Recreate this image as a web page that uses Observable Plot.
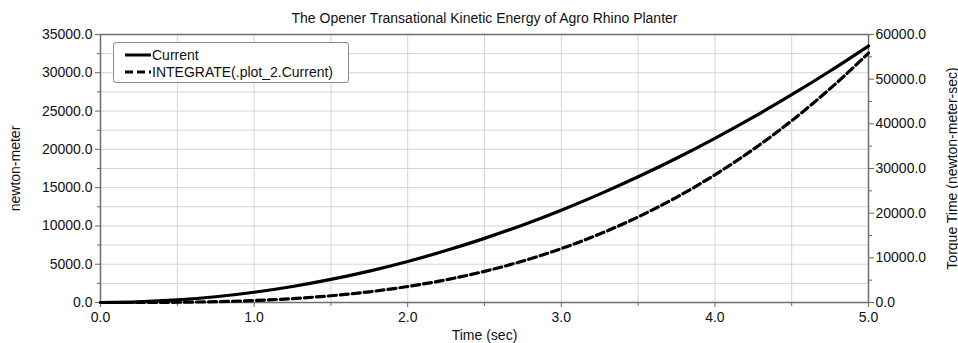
<!DOCTYPE html>
<html>
<head>
<meta charset="utf-8">
<script src="https://cdn.jsdelivr.net/npm/d3@7"></script>
<script src="https://cdn.jsdelivr.net/npm/@observablehq/plot@0.6"></script>
<style>
  html, body { margin: 0; padding: 0; background: #fff; }
  #wrap { position: relative; width: 958px; height: 343px; font-family: "Liberation Sans", Arial, sans-serif; }
  #legend { position: absolute; left: 113px; top: 42px; width: 234px; height: 39px; border: 1px solid #8a8a8a; border-radius: 3px; background: #fff; font-size: 14px; color: #111; }
  .row { position: absolute; left: 10px; height: 16px; display: flex; align-items: center; }
  .row svg { display: block; }
  .row span { margin-left: 1px; line-height: 16px; }
</style>
</head>
<body>
<div id="wrap">
  <div id="chart"></div>
  <div id="legend">
    <div class="row" style="top:4px"><svg width="27" height="8"><line x1="1" y1="4" x2="27" y2="4" stroke="#000" stroke-width="3"/></svg><span>Current</span></div>
    <div class="row" style="top:21px"><svg width="27" height="8"><line x1="1" y1="4" x2="27" y2="4" stroke="#000" stroke-width="3" stroke-dasharray="8,4"/></svg><span>INTEGRATE(.plot_2.Current)</span></div>
  </div>
</div>
<script>
const title = "The Opener Transational Kinetic Energy of Agro Rhino Planter";
const xLabel = "Time (sec)";
const yLeftLabel = "newton-meter";
const yRightLabel = "Torque Time (newton-meter-sec)";

const time = [0, 0.25, 0.5, 0.75, 1.0, 1.25, 1.5, 1.75, 2.0, 2.25, 2.5, 2.75, 3.0, 3.25, 3.5, 3.75, 4.0, 4.25, 4.5, 4.75, 5.0];
const current = [0, 84, 335, 754, 1340, 2094, 3015, 4104, 5360, 6784, 8375, 10134, 12060, 14154, 16415, 18844, 21440, 24204, 27135, 30234, 33500];
const integrate = [0, 7, 56, 188, 447, 872, 1508, 2394, 3573, 5088, 6979, 9290, 12060, 15333, 19152, 23556, 28587, 34290, 40704, 47872, 55833];

const leftMax = 35000;
const rightMax = 60000;
const k = leftMax / rightMax;

const xMajor = [0, 1, 2, 3, 4, 5];
const xMinor = [0.5, 1.5, 2.5, 3.5, 4.5];
const xGrid = [0.5, 1, 1.5, 2, 2.5, 3, 3.5, 4, 4.5];
const yLeftMajor = [0, 5000, 10000, 15000, 20000, 25000, 30000, 35000];
const yLeftMinor = [2500, 7500, 12500, 17500, 22500, 27500, 32500];
const yGrid = [2500, 5000, 7500, 10000, 12500, 15000, 17500, 20000, 22500, 25000, 27500, 30000, 32500];
const yRightMajor = [0, 10000, 20000, 30000, 40000, 50000, 60000];
const yRightMinor = [5000, 15000, 25000, 35000, 45000, 55000];

const curData = time.map((t, i) => ({t, v: current[i]}));
const intData = time.map((t, i) => ({t, v: integrate[i] * k}));

const fmt = d => d.toFixed(1);

const chart = Plot.plot({
  width: 958,
  height: 343,
  marginLeft: 100,
  marginRight: 90,
  marginTop: 34,
  marginBottom: 41,
  style: {fontFamily: "Liberation Sans, Arial, sans-serif", fontSize: "14px", color: "#111", background: "#fff"},
  x: {domain: [0, 5]},
  y: {domain: [0, leftMax]},
  marks: [
    Plot.gridX(xGrid, {stroke: "#d4d4d4", strokeOpacity: 1}),
    Plot.gridY(yGrid, {stroke: "#d4d4d4", strokeOpacity: 1}),
    Plot.axisX(xMajor, {tickSize: 5, tickPadding: 5, tickFormat: fmt, stroke: "#666", label: xLabel, labelAnchor: "center", labelOffset: 37, labelArrow: "none"}),
    Plot.axisX(xMinor, {tickSize: 4, tickFormat: () => "", stroke: "#666", label: null}),
    Plot.axisY(yLeftMajor, {anchor: "left", tickSize: 5, tickPadding: 3, tickFormat: fmt, stroke: "#666", label: yLeftLabel, labelAnchor: "center", labelOffset: 90, labelArrow: "none"}),
    Plot.axisY(yLeftMinor, {anchor: "left", tickSize: 3, tickFormat: () => "", stroke: "#666", label: null}),
    Plot.axisY(yRightMajor.map(v => v * k), {anchor: "right", tickSize: 5, tickPadding: 2, tickFormat: d => fmt(d / k), stroke: "#666", label: yRightLabel, labelAnchor: "center", labelOffset: 88, labelArrow: "none"}),
    Plot.axisY(yRightMinor.map(v => v * k), {anchor: "right", tickSize: 3, tickFormat: () => "", stroke: "#666", label: null}),
    Plot.frame({stroke: "#6e6e6e", strokeWidth: 1.5}),
    Plot.line(intData, {x: "t", y: "v", stroke: "#000", strokeWidth: 3.2, strokeDasharray: "8,4", curve: "monotone-x"}),
    Plot.line(curData, {x: "t", y: "v", stroke: "#000", strokeWidth: 3.2, curve: "monotone-x"}),
    Plot.text([title], {frameAnchor: "top", dy: -21, text: d => d, fontSize: 14, fill: "#111"})
  ]
});
document.getElementById("chart").appendChild(chart);
</script>
</body>
</html>
